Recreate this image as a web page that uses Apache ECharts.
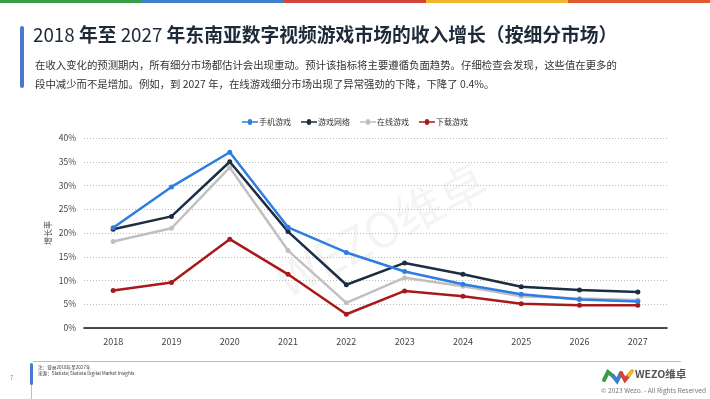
<!DOCTYPE html>
<html>
<head>
<meta charset="utf-8">
<script src="https://cdn.jsdelivr.net/npm/echarts@6/dist/echarts.min.js"></script>
<style>
  html, body { margin: 0; padding: 0; background: #fff; }
  #chart { width: 710px; height: 399px; }
</style>
</head>
<body>
<div id="chart"></div>
<script>
// 数据
var years = ['2018', '2019', '2020', '2021', '2022', '2023', '2024', '2025', '2026', '2027'];
var mobileGames = [21.1, 29.7, 37.0, 21.2, 15.9, 11.9, 9.2, 7.1, 6.0, 5.6];
var gameNetworks = [20.8, 23.5, 35.0, 20.3, 9.1, 13.7, 11.3, 8.7, 8.0, 7.6];
var onlineGames = [18.2, 21.0, 33.8, 16.3, 5.3, 10.6, 8.8, 6.7, 6.2, 5.9];
var downloadGames = [7.9, 9.6, 18.7, 11.3, 2.9, 7.8, 6.7, 5.1, 4.8, 4.8];
var seriesNames = ['手机游戏', '游戏网络', '在线游戏', '下载游戏'];
var lineColors = ['#2f7de1', '#1b2e44', '#c0c0c0', '#a8191c'];

var font = '"Noto Sans CJK SC", "Noto Sans", sans-serif';
var chart = echarts.init(document.getElementById('chart'));

function makeLine(name, data, i) {
  return {
    name: name,
    type: 'line',
    data: data,
    symbol: 'circle',
    symbolSize: 5,
    z: 10 - i,
    lineStyle: { color: lineColors[i], width: 2.5 },
    itemStyle: { color: lineColors[i] }
  };
}

var topBar = ['#3a9b48', '#3f7fcb', '#d2453a', '#efb52c', '#e05a2d'].map(function (c, i) {
  return { type: 'rect', shape: { x: i * 142, y: 0, width: 142, height: 3 }, style: { fill: c } };
});

var option = {
  animation: false,
  textStyle: { fontFamily: font },
  legend: {
    data: seriesNames,
    top: 113,
    left: 'center',
    itemWidth: 16,
    itemHeight: 8,
    itemGap: 10,
    icon: 'path://M0,3.2 L5.8,3.2 A2.2,2.2 0 0,1 10.2,3.2 L16,3.2 L16,4.8 L10.2,4.8 A2.2,2.2 0 0,1 5.8,4.8 L0,4.8 Z',
    textStyle: { fontSize: 8, color: '#333', fontFamily: font, padding: [0, 0, 0, -4] }
  },
  grid: { left: 84, right: 43, top: 138, bottom: 71 },
  xAxis: {
    type: 'category',
    data: years,
    boundaryGap: true,
    axisLine: { lineStyle: { color: '#111', width: 1.5 } },
    axisTick: { show: false },
    axisLabel: { fontSize: 9, color: '#444', margin: 9 }
  },
  yAxis: {
    type: 'value',
    min: 0,
    max: 40,
    interval: 5,
    name: '增长率',
    nameLocation: 'middle',
    nameGap: 32,
    nameMoveOverlap: false,
    nameRotate: 90,
    nameTextStyle: { fontSize: 8, color: '#444' },
    axisLine: { show: false },
    axisTick: { show: false },
    axisLabel: { fontSize: 8.5, color: '#444', formatter: '{value}%', margin: 8 },
    splitLine: { lineStyle: { color: '#bdbdbd', type: [1, 2], width: 1 } }
  },
  series: [
    makeLine(seriesNames[0], mobileGames, 0),
    makeLine(seriesNames[1], gameNetworks, 1),
    makeLine(seriesNames[2], onlineGames, 2),
    makeLine(seriesNames[3], downloadGames, 3)
  ],
  graphic: topBar.concat([
    // 左侧标题竖条
    { type: 'rect', shape: { x: 20, y: 26, width: 4, height: 62, r: 2 }, style: { fill: '#4a78d0' } },
    {
      type: 'text', left: 33, top: 25,
      style: {
        text: '{n|2018 }{b|年至}{n| 2027 }{b|年东南亚数字视频游戏市场的收入增长（按细分市场）}',
        rich: {
          n: { fontSize: 18.8, fontFamily: font, fill: '#1e2a3a', fontWeight: 'normal' },
          b: { fontSize: 18.8, fontFamily: font, fill: '#1e2a3a', fontWeight: 'bold' }
        }
      }
    },
    {
      type: 'text', left: 35, top: 56,
      style: {
        text: '在收入变化的预测期内，所有细分市场都估计会出现重动。预计该指标将主要遵循负面趋势。仔细检查会发现，这些值在更多的\n段中减少而不是增加。例如，到 2027 年，在线游戏细分市场出现了异常强劲的下降，下降了 0.4%。',
        fontSize: 10.4, fontFamily: font, fill: '#333', lineHeight: 19
      }
    },
    // 水印
    {
      type: 'text', x: 268, y: 262, rotation: Math.PI / 6.5,
      style: { text: 'WEZO维卓', fontSize: 48, fontFamily: font, fill: 'rgba(0,0,0,0.045)' }
    },
    // 页脚
    { type: 'rect', shape: { x: 33, y: 361, width: 648, height: 1 }, style: { fill: '#a8c0ec' } },
    { type: 'rect', shape: { x: 30, y: 363, width: 3, height: 22, r: 1.5 }, style: { fill: '#4a78d0' } },
    { type: 'rect', shape: { x: 31, y: 385, width: 1, height: 14 }, style: { fill: '#a8c0ec' } },
    { type: 'text', left: 10, top: 375, style: { text: '7', fontSize: 6, fill: '#888', fontFamily: font } },
    {
      type: 'text', left: 38, top: 364,
      style: { text: '注：亚洲2018年至2027年\n来源：Statista; Statista Digital Market Insights', fontSize: 4.6, lineHeight: 6, fill: '#333', fontFamily: font }
    },
    // logo
    { type: 'polyline', shape: { points: [[604, 380], [608, 372], [613, 376]] }, style: { stroke: '#3a9b48', lineWidth: 4, lineCap: 'round', fill: null } },
    { type: 'polyline', shape: { points: [[613, 376], [617, 381], [621, 373]] }, style: { stroke: '#3f7fcb', lineWidth: 4, lineCap: 'round', fill: null } },
    { type: 'polyline', shape: { points: [[621, 373], [625, 380], [629, 375]] }, style: { stroke: '#d2453a', lineWidth: 4, lineCap: 'round', fill: null } },
    { type: 'polyline', shape: { points: [[629, 375], [632, 371]] }, style: { stroke: '#efb52c', lineWidth: 4, lineCap: 'round', fill: null } },
    { type: 'text', left: 635, top: 369, style: { text: 'WEZO维卓', fontSize: 10.5, fontWeight: 'bold', fill: '#555', fontFamily: font } },
    { type: 'text', right: 4, top: 387, style: { text: '© 2023 Wezo. - All Rights Reserved', fontSize: 6.6, fill: '#777', fontFamily: font } }
  ])
};

chart.setOption(option);
</script>
</body>
</html>
